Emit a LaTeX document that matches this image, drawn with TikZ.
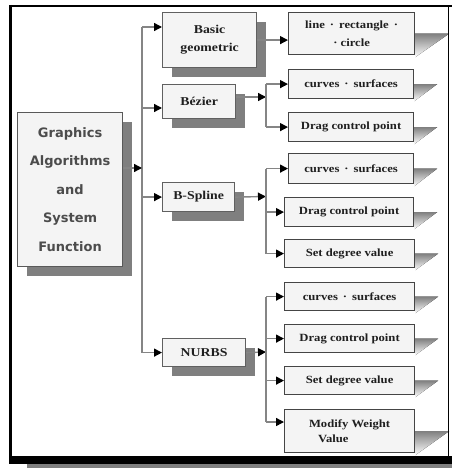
\documentclass[tikz,border=0pt]{standalone}
\usepackage{fontspec}
\newfontfamily\labelfont[FakeStretch=1.15]{Liberation Serif}
\newfontfamily\headfont{DejaVu Sans}
\usetikzlibrary{arrows.meta,shadows,backgrounds}
\definecolor{boxfill}{HTML}{F4F4F4}
\definecolor{shade}{HTML}{7F7F7F}
\definecolor{wirecol}{HTML}{858585}
\definecolor{rim}{HTML}{454545}
\tikzset{
  box/.style={anchor=north west, draw=rim, fill=boxfill, line width=1.2pt,
    inner sep=0pt, align=center, text=black!88},
  shadowed/.style={drop shadow={shadow xshift=9pt, shadow yshift=-9.5pt,
    fill=shade, opacity=1}},
  topbox/.style={box, draw=gray!75!black, shadowed,
    font=\labelfont\bfseries\fontsize{12}{18}\selectfont},
  leafbox/.style={box, font=\labelfont\bfseries\fontsize{11}{15}\selectfont},
  wire/.style={draw=wirecol, line width=1.4pt},
  arr/.style={wire, -{Triangle[length=8pt,width=8pt,color=black]}},
}
% grey perspective wedge to the right of a leaf box
\newcommand\wedgeshade[2]{\fill[shade] (#1.east) -- ++(#2,0) -- ([yshift=-2pt]#1.south east) -- cycle;}
\begin{document}
\begin{tikzpicture}[x=1pt,y=-1pt]
\useasboundingbox (0,0) rectangle (452,468);

% page frame
\fill[black] (9,456) rectangle (452,464);
\fill[gray] (27,464) rectangle (452,468);
\draw[line width=2.5pt] (9,6) -- (452,6);
\draw[line width=3pt] (10.5,5) -- (10.5,457);
\draw[line width=1pt] (448,6) -- (448,456);

% root
\node[box, shadowed, draw=gray!70!black, minimum width=105pt, minimum height=154pt,
  font=\headfont\bfseries\fontsize{13}{28.5}\selectfont, text=black!70]
  (core) at (17,112) {Graphics\\Algorithms\\and\\System\\Function};

% second level
\node[topbox, minimum width=94pt, minimum height=55pt] (basic) at (162,12) {Basic\\geometric};
\node[topbox, minimum width=73pt, minimum height=34pt] (bezier) at (162,84) {Bézier};
\node[topbox, minimum width=72pt, minimum height=29pt] (bspline) at (162,182) {B-Spline};
\node[topbox, minimum width=83pt, minimum height=28pt] (nurbs) at (162,338) {NURBS};

% leaves
\node[leafbox, minimum width=126pt, minimum height=42pt,
  font=\labelfont\bfseries\fontsize{11}{18}\selectfont] (shape) at (288,12) {line \,·\, rectangle \,·\\ · circle};
\node[leafbox, minimum width=125pt, minimum height=29pt] (bzc) at (288,69) {curves \,·\, surfaces};
\node[leafbox, minimum width=125pt, minimum height=29pt] (bzd) at (288,112) {Drag control point};
\node[leafbox, minimum width=125pt, minimum height=30pt] (bsc) at (288,153) {curves \,·\, surfaces};
\node[leafbox, minimum width=129pt, minimum height=29pt] (bsd) at (284,197) {Drag control point};
\node[leafbox, minimum width=130pt, minimum height=28pt] (bss) at (284,239) {Set degree value};
\node[leafbox, minimum width=130pt, minimum height=28pt] (nc) at (284,282) {curves \,·\, surfaces};
\node[leafbox, minimum width=130pt, minimum height=28pt] (nd) at (284,324) {Drag control point};
\node[leafbox, minimum width=130pt, minimum height=28pt] (ns) at (284,366) {Set degree value};
\node[leafbox, minimum width=130pt, minimum height=43pt, align=left] (nm) at (284,409)
  {Modify Weight\\\hspace*{9pt}Value};

\begin{scope}[on background layer]
  \wedgeshade{shape}{34}
  \wedgeshade{bzc}{23}
  \wedgeshade{bzd}{23}
  \wedgeshade{bsc}{23}
  \wedgeshade{bsd}{23}
  \wedgeshade{bss}{23}
  \wedgeshade{nc}{23}
  \wedgeshade{nd}{23}
  \wedgeshade{ns}{23}
  \wedgeshade{nm}{34}
\end{scope}

% main trunk
\coordinate (tin) at (142,168);
\coordinate (ttop) at (142,27);
\coordinate (tbz) at (142,108);
\draw[wire] (ttop) -- (tin |- nurbs.west);
\draw[arr] (core.east |- tin) -- (tin);
\draw[arr] (ttop) -- (basic.west |- ttop);
\draw[arr] (tbz) -- (bezier.west |- tbz);
\draw[arr] (tin |- bspline.west) -- (bspline.west);
\draw[arr] (tin |- nurbs.west) -- (nurbs.west);

% basic geometric
\draw[arr] (basic.east) -- (basic.east -| shape.west);

% Bezier branch
\coordinate (sbz) at (266,97);
\draw[arr] (bezier.east |- sbz) -- (sbz);
\draw[wire] (sbz |- bzc.west) -- (sbz |- bzd.west);
\draw[arr] (sbz |- bzc.west) -- (bzc.west);
\draw[arr] (sbz |- bzd.west) -- (bzd.west);

% B-Spline branch
\coordinate (sbs) at (266,196.5);
\draw[arr] (bspline.east) -- (sbs);
\draw[wire] (sbs |- bsc.west) -- (sbs |- bss.west);
\draw[arr] (sbs |- bsc.west) -- (bsc.west);
\draw[arr] (sbs |- bsd.west) -- (bsd.west);
\draw[arr] (sbs |- bss.west) -- (bss.west);

% NURBS branch
\coordinate (snb) at (266,352);
\coordinate (nmin) at (266,422);
\draw[arr] (nurbs.east) -- (snb);
\draw[wire] (snb |- nc.west) -- (nmin);
\draw[arr] (snb |- nc.west) -- (nc.west);
\draw[arr] (snb |- nd.west) -- (nd.west);
\draw[arr] (snb |- ns.west) -- (ns.west);
\draw[arr] (nmin) -- (nm.west |- nmin);
\end{tikzpicture}
\end{document}
